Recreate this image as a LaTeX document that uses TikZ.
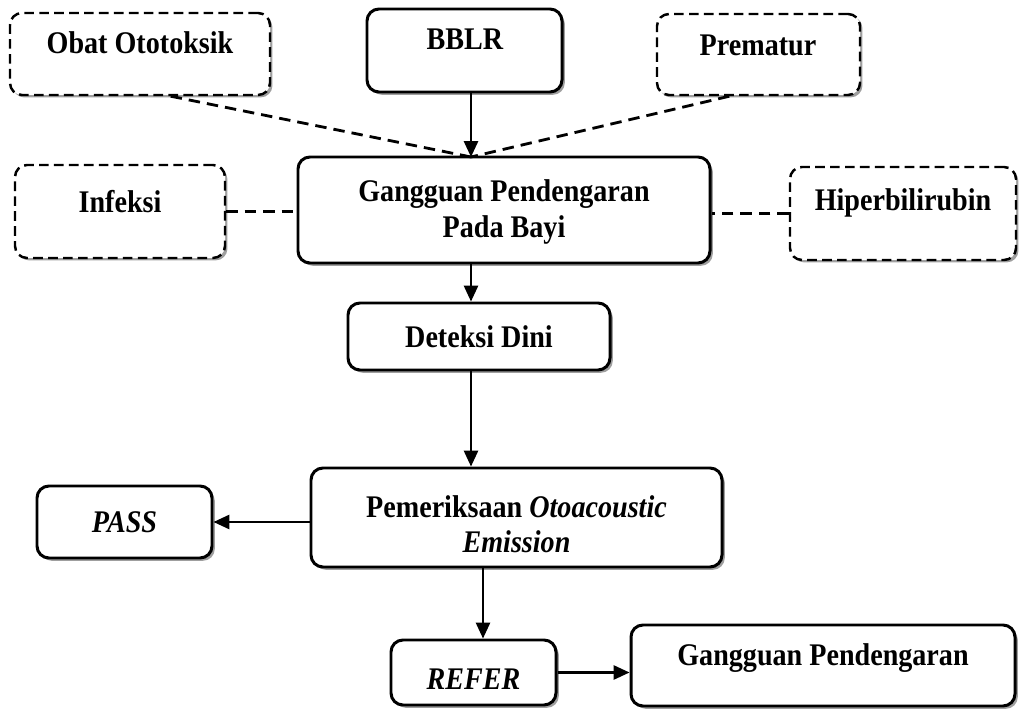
\documentclass[tikz,border=0pt]{standalone}
\usepackage{fontspec}
\usepackage{graphicx}
\setmainfont{Liberation Serif}
\usetikzlibrary{arrows.meta,shadows,calc}
\newcommand\tallt[1]{\scalebox{1}[1.12]{#1}}
\begin{document}
\begin{tikzpicture}[x=0.02cm,y=-0.02cm,
  box/.style={draw=black, line width=1.7pt, rounded corners=0.24cm, fill=white,
    drop shadow={shadow xshift=1.6pt, shadow yshift=-1.6pt, fill=gray!75, opacity=1}},
  dbox/.style={draw=black, line width=1.4pt, rounded corners=0.24cm, fill=white,
    dash pattern=on 5.5pt off 3pt,
    drop shadow={shadow xshift=1.4pt, shadow yshift=-1.4pt, fill=gray!75, opacity=1}},
  sz/.style 2 args={minimum width=#1*0.02cm, minimum height=#2*0.02cm, inner sep=0pt},
  lbl/.style={font=\fontsize{16}{19}\selectfont\bfseries, align=center, inner sep=0pt},
  arr/.style={line width=1.3pt, -{Triangle[length=9pt,width=8pt]}},
  dline/.style={line width=1.6pt, dash pattern=on 6.5pt off 4pt}
]
\useasboundingbox[fill=white] (0,0) rectangle (1021,709);

% boxes
\node[dbox, sz={260}{82}] (obat) at (140,54) {};
\node[box,  sz={195}{83}] (bblr) at (464.5,50.5) {};
\node[dbox, sz={203}{81}] (prem) at (758.5,54.5) {};
\node[dbox, sz={210}{93}] (infeksi) at (120,211.5) {};
\node[box,  sz={412}{106}] (gppb) at (504,210) {};
\node[dbox, sz={226}{93}] (hiper) at (903,213.5) {};
\node[box,  sz={262}{67}] (deteksi) at (479,336.5) {};
\node[box,  sz={411}{99}] (oae) at (516.5,517.5) {};
\node[box,  sz={175}{72}] (pass) at (124.5,522) {};
\node[box,  sz={165}{65}] (refer) at (473.5,672.5) {};
\node[box,  sz={384}{81}] (gp) at (823,665.5) {};

% texts
\node[lbl] (obat-t) at (140,43) {\tallt{Obat Ototoksik}};
\node[lbl] (bblr-t) at (465,39) {\tallt{BBLR}};
\node[lbl] (prem-t) at (758,45) {\tallt{Prematur}};
\node[lbl] (infeksi-t) at (120,202) {\tallt{Infeksi}};
\node[lbl] (gppb-t) at (504,212) {\tallt{Gangguan Pendengaran}\\[1pt]\tallt{Pada Bayi}};
\node[lbl] (hiper-t) at (903,203) {\tallt{Hiperbilirubin}};
\node[lbl] (deteksi-t) at (479,337) {\tallt{Deteksi Dini}};
\node[lbl] (oae-t) at (516.5,524) {\tallt{Pemeriksaan \textit{Otoacoustic}}\\[1pt]\tallt{\textit{Emission}}};
\node[lbl] (pass-t) at (124.5,522) {\tallt{\textit{PASS}}};
\node[lbl] (refer-t) at (473.5,679) {\tallt{\textit{REFER}}};
\node[lbl] (gp-t) at (823,658) {\tallt{Gangguan Pendengaran}};

% connectors
\coordinate (jn) at (471,157);
\coordinate (jr) at (483,600);
\draw[dline] (obat.-54) -- (jn);
\draw[dline] (prem.-125) -- (jn);
\draw[arr] (bblr.south -| jn) -- (jn);
\draw[dline] (infeksi.east) -- (infeksi.east -| gppb.west);
\draw[dline] (hiper.west) -- (hiper.west -| gppb.east);
\draw[arr] (gppb.south -| jn) -- (deteksi.north -| jn);
\draw[arr] (deteksi.south -| jn) -- (oae.north -| jn);
\draw[arr] (oae.west |- pass.east) -- (pass.east);
\draw[arr] (oae.south -| jr) -- (refer.north -| jr);
\draw[arr] (refer.east) -- (refer.east -| gp.west);
\end{tikzpicture}
\end{document}
